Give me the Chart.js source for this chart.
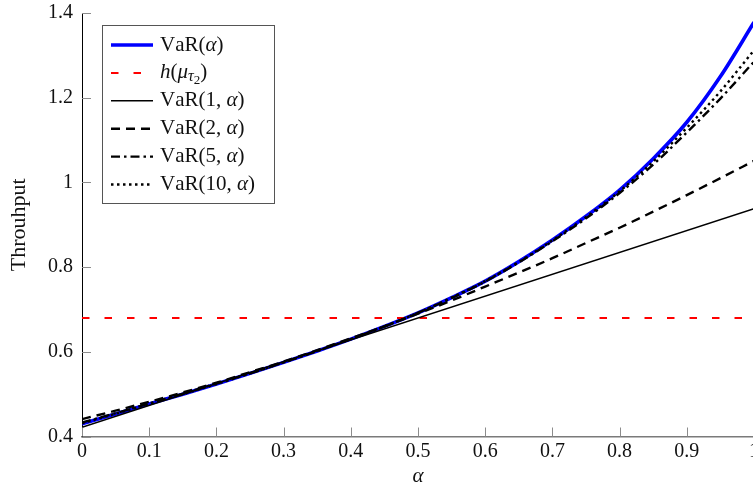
<!DOCTYPE html>
<html>
<head>
<meta charset="utf-8">
<script src="https://cdn.jsdelivr.net/npm/chart.js@4.4.1/dist/chart.umd.min.js"></script>
<style>
  html, body { margin: 0; padding: 0; background: #fff; overflow: hidden; }
  #wrap { position: absolute; left: 0; top: 0; width: 800px; height: 487px; }
</style>
</head>
<body>
<div id="wrap"><canvas id="chart" width="800" height="487"></canvas></div>
<script>
// values
const alphas = [0, 0.05, 0.1, 0.15, 0.2, 0.25, 0.3, 0.35, 0.4, 0.45, 0.5,
  0.55, 0.6, 0.65, 0.7, 0.75, 0.8, 0.85, 0.9, 0.95, 1];
const alphaEnds = [0, 1];

const varExact = [0.430, 0.453, 0.477, 0.500, 0.524, 0.549, 0.575, 0.602, 0.630, 0.660, 0.692,
  0.728, 0.767, 0.813, 0.864, 0.920, 0.982, 1.056, 1.142, 1.250, 1.378];
const hMu = [0.68, 0.68];
const var1 = [0.422, 0.938];
const var2 = [0.441, 0.461, 0.482, 0.504, 0.527, 0.552, 0.577, 0.604, 0.632, 0.660, 0.690,
  0.721, 0.754, 0.787, 0.821, 0.857, 0.893, 0.931, 0.970, 1.010, 1.051];
const var5 = [0.433, 0.455, 0.478, 0.501, 0.525, 0.549, 0.575, 0.602, 0.630, 0.660, 0.692,
  0.727, 0.766, 0.811, 0.861, 0.915, 0.975, 1.042, 1.118, 1.198, 1.285];
const var10 = [0.431, 0.454, 0.477, 0.500, 0.524, 0.549, 0.575, 0.602, 0.630, 0.660, 0.692,
  0.728, 0.767, 0.812, 0.863, 0.918, 0.979, 1.049, 1.129, 1.215, 1.312];

const seriesNames = ['VaR(α)', 'h(μτ₂)', 'VaR(1, α)', 'VaR(2, α)', 'VaR(5, α)', 'VaR(10, α)'];
const xTicks = [0, 0.1, 0.2, 0.3, 0.4, 0.5, 0.6, 0.7, 0.8, 0.9, 1];
const yTicks = [0.4, 0.6, 0.8, 1, 1.2, 1.4];

const FONT = '"Liberation Serif", "Times New Roman", serif';

const pts = (xs, ys) => xs.map((x, i) => ({ x: x, y: ys[i] }));

// split a label into upright / italic / subscript pieces
function toParts(name) {
  const parts = [];
  for (const ch of name) {
    if (ch === 'τ') parts.push({ t: ch, it: true, size: 16, dy: 4 });
    else if (ch === '₂') parts.push({ t: '2', it: false, size: 13, dy: 8 });
    else if ('αμh'.includes(ch)) parts.push({ t: ch, it: true, size: 21, dy: 0 });
    else parts.push({ t: ch, it: false, size: 21, dy: 0 });
  }
  return parts;
}

function drawRich(ctx, parts, x, y) {
  for (const p of parts) {
    ctx.font = (p.it ? 'italic ' : '') + p.size + 'px ' + FONT;
    ctx.fillText(p.t, x, y + p.dy);
    x += ctx.measureText(p.t).width;
  }
}

const axisExtras = {
  id: 'axisExtras',
  afterDraw(chart) {
    const { ctx, chartArea, scales } = chart;
    ctx.save();
    // inward tick marks
    ctx.strokeStyle = '#8c8c8c';
    ctx.lineWidth = 1;
    ctx.beginPath();
    xTicks.forEach(v => {
      const px = Math.round(scales.x.getPixelForValue(v)) + 0.5;
      ctx.moveTo(px, chartArea.bottom);
      ctx.lineTo(px, chartArea.bottom - 9);
    });
    yTicks.forEach(v => {
      const py = Math.round(scales.y.getPixelForValue(v)) + 0.5;
      ctx.moveTo(chartArea.left, py);
      ctx.lineTo(chartArea.left + 9, py);
    });
    ctx.stroke();

    // legend box
    const bx = 102, by = 25, bw = 172, bh = 178;
    ctx.fillStyle = '#fff';
    ctx.fillRect(bx, by, bw, bh);
    ctx.strokeStyle = '#555';
    ctx.lineWidth = 1;
    ctx.strokeRect(bx + 0.5, by + 0.5, bw, bh);

    chart.data.datasets.forEach((ds, i) => {
      const cy = 45 + i * 27.9;
      ctx.beginPath();
      ctx.setLineDash(ds.borderDash || []);
      ctx.strokeStyle = ds.borderColor;
      ctx.lineWidth = ds.borderWidth;
      ctx.moveTo(111, cy);
      ctx.lineTo(153, cy);
      ctx.stroke();
      ctx.setLineDash([]);
      ctx.fillStyle = '#111';
      ctx.textBaseline = 'middle';
      drawRich(ctx, toParts(ds.label), 160, cy);
    });
    ctx.restore();
  }
};

new Chart(document.getElementById('chart'), {
  type: 'line',
  data: {
    datasets: [
      { label: seriesNames[0], data: pts(alphas, varExact), borderColor: '#0000ff', borderWidth: 3.6, order: 10 },
      { label: seriesNames[1], data: pts(alphaEnds, hMu), borderColor: '#ff0000', borderWidth: 2, borderDash: [7.5, 15], order: 5 },
      { label: seriesNames[2], data: pts(alphaEnds, var1), borderColor: '#000', borderWidth: 1.5, order: 4 },
      { label: seriesNames[3], data: pts(alphas, var2), borderColor: '#000', borderWidth: 2.4, borderDash: [9, 6], order: 3 },
      { label: seriesNames[4], data: pts(alphas, var5), borderColor: '#000', borderWidth: 2.4, borderDash: [9, 4, 2.5, 4], order: 2 },
      { label: seriesNames[5], data: pts(alphas, var10), borderColor: '#000', borderWidth: 2.4, borderDash: [2.5, 3.5], order: 1 }
    ]
  },
  options: {
    responsive: false,
    animation: false,
    layout: { padding: { top: 13, right: 46, left: 0, bottom: 0 } },
    elements: {
      point: { radius: 0 },
      line: { tension: 0, cubicInterpolationMode: 'monotone', borderCapStyle: 'butt', fill: false }
    },
    plugins: { legend: { display: false }, tooltip: { enabled: false } },
    scales: {
      x: {
        type: 'linear', min: 0, max: 1,
        afterBuildTicks: s => { s.ticks = xTicks.map(v => ({ value: v })); },
        afterFit: s => { s.height = 50.5; s.paddingLeft = 0; s.paddingRight = 0; },
        grid: { display: false, drawTicks: false },
        border: { display: true, color: '#7a7a7a', width: 1.5 },
        ticks: { padding: 3, color: '#111', font: { family: FONT, size: 20 }, maxRotation: 0, callback: v => String(v) },
        title: { display: true, text: 'α', color: '#111', padding: { top: 1, bottom: 0 },
          font: { family: FONT, size: 21, style: 'italic', lineHeight: 1 } }
      },
      y: {
        min: 0.4, max: 1.4,
        afterBuildTicks: s => { s.ticks = yTicks.map(v => ({ value: v })); },
        afterFit: s => { s.width = 82; s.paddingTop = 0; s.paddingBottom = 0; },
        grid: { display: false, drawTicks: false },
        border: { display: true, color: '#000', width: 1 },
        ticks: { padding: 9, color: '#111', font: { family: FONT, size: 20 }, callback: v => String(v) },
        title: { display: true, text: 'Throuhput', color: '#111', padding: { top: 8, bottom: 0 },
          font: { family: FONT, size: 22, lineHeight: 1 } }
      }
    }
  },
  plugins: [axisExtras]
});
</script>
</body>
</html>
